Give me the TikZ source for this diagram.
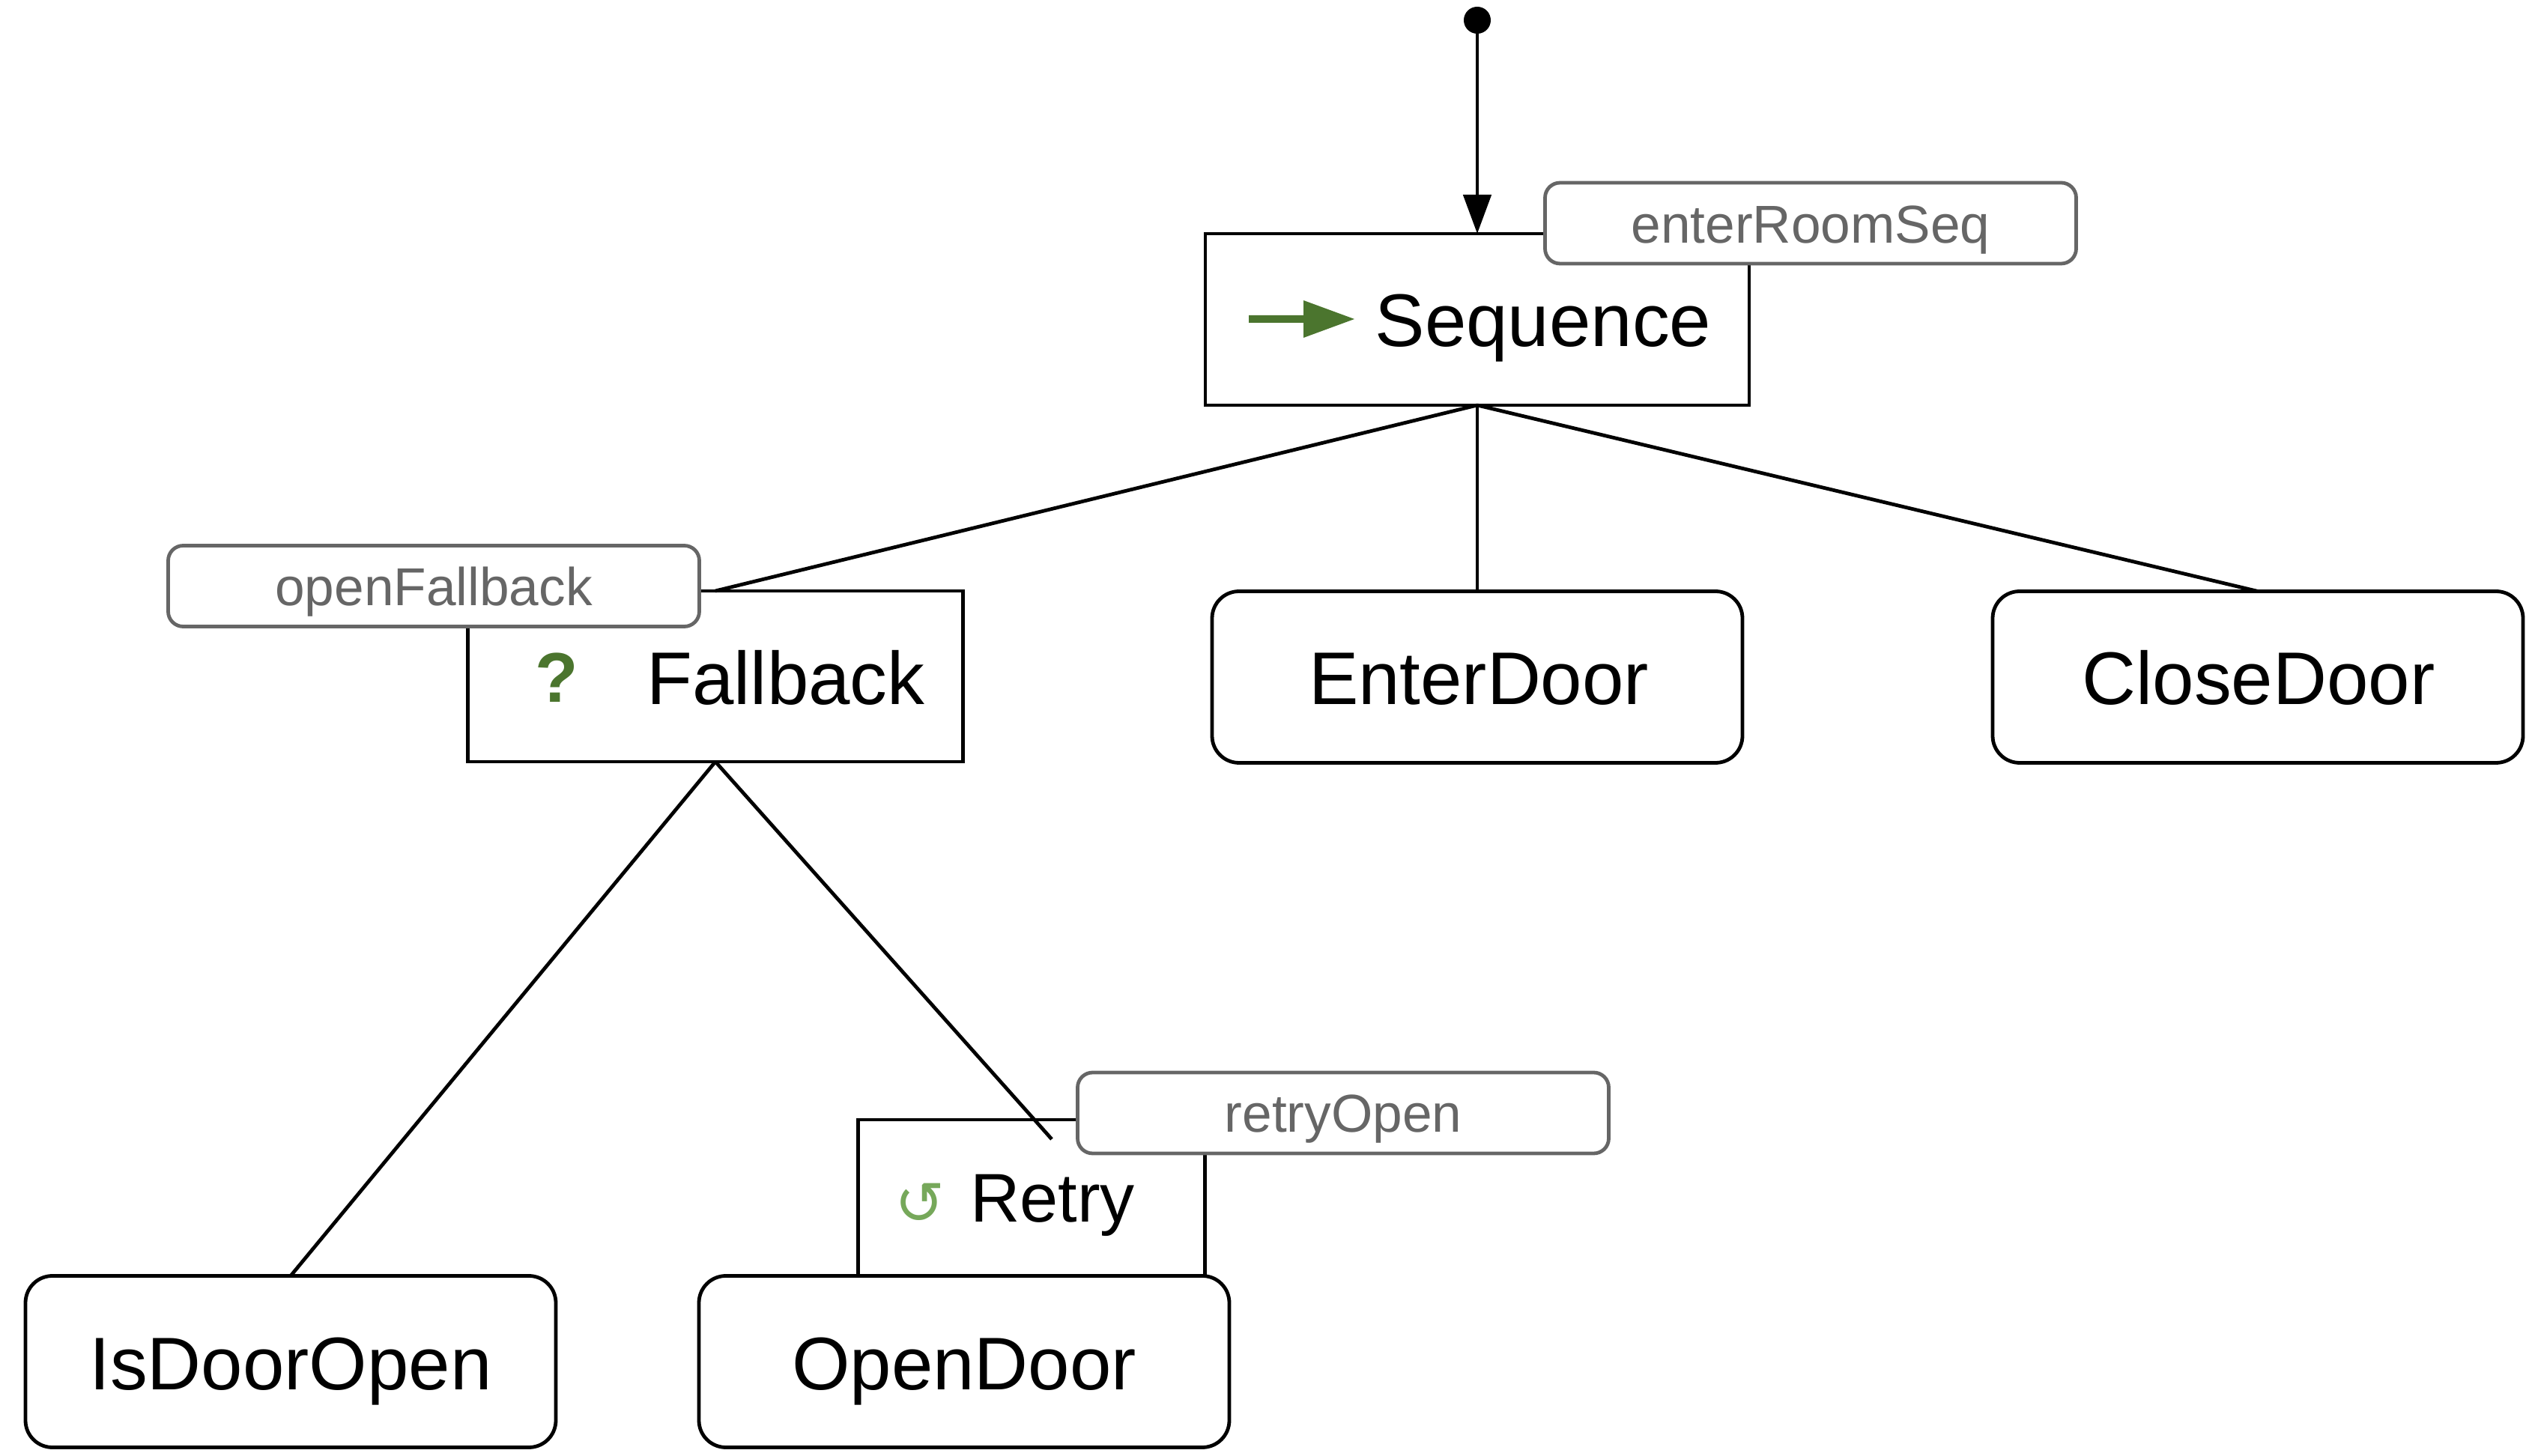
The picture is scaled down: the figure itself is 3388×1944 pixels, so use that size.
\documentclass[tikz,border=0pt]{standalone}
\usepackage{fontspec}
\setmainfont{Liberation Sans}
\newfontfamily\symfont{DejaVu Sans}
\usetikzlibrary{arrows.meta}
\definecolor{dkgreen}{HTML}{4B752E}
\definecolor{ltgreen}{HTML}{76A85A}
\definecolor{lblgray}{HTML}{666666}
\tikzset{
  boxbase/.style={draw=black,fill=white,line width=1.2pt,inner sep=0pt,outer sep=0pt},
  ctrlbox/.style={boxbase},
  actionbox/.style={boxbase,rounded corners=9pt,minimum width=177pt,minimum height=57.25pt},
  tagbox/.style={draw=lblgray,fill=white,line width=1.2pt,inner sep=0pt,outer sep=0pt,rounded corners=5pt,minimum width=177.25pt,minimum height=27pt},
  maintext/.style={anchor=base,inner sep=0pt,font=\fontsize{24.9}{30}\selectfont,text=black},
  tagtext/.style={anchor=base,inner sep=0pt,font=\fontsize{17.8}{21}\selectfont,text=lblgray},
  edge/.style={draw=black,line width=1.2pt},
  startarrow/.style={edge,-{Triangle[length=13pt,width=9.25pt]}},
}
\begin{document}
\begin{tikzpicture}[x=0.25pt,y=-0.25pt]
\useasboundingbox (0,0) rectangle (3388,1944);
\fill[white] (0,0) rectangle (3388,1944);
% boxes
\node[ctrlbox,minimum width=181.5pt,minimum height=57.25pt] (seq) at (1972,426.5) {};
\node[ctrlbox,minimum width=165.25pt,minimum height=57pt] (fb) at (955,903) {};
\node[ctrlbox,minimum width=115.75pt,minimum height=52.5pt] (retry) at (1377,1600) {};
\node[actionbox] (enter) at (1972,904) {};
\node[actionbox] (close) at (3014,904) {};
\node[actionbox] (isopen) at (388,1818) {};
\node[actionbox] (open) at (1287,1818) {};
% start
\node[circle,fill=black,inner sep=0pt,outer sep=0pt,minimum size=9pt] (start) at (1972,27) {};
\coordinate (retryend) at (1404,1521);
% connectors
\draw[startarrow] (start) -- (seq.north);
\draw[edge] (seq.south) -- (fb.north);
\draw[edge] (seq.south) -- (enter.north);
\draw[edge] (seq.south) -- (close.north);
\draw[edge] (fb.south) -- (isopen.north);
\draw[edge] (fb.south) -- (retryend);
% tags
\node[tagbox] (tagseq) at (2417,298) {};
\node[tagbox] (tagfb) at (579,782.5) {};
\node[tagbox] (tagretry) at (1793,1486) {};
\node[tagtext] (tagseqt) at (2417,325) {enterRoomSeq};
\node[tagtext] (tagfbt) at (579,809) {openFallback};
\node[tagtext] (tagretryt) at (1793,1512) {retryOpen};
% icons
\fill[dkgreen] (1667,421) -- (1740,421) -- (1740,401) -- (1808,426) -- (1740,451) -- (1740,431) -- (1667,431) -- cycle;
\node[anchor=base,inner sep=0pt,font=\fontsize{23.5}{28}\bfseries\selectfont,text=dkgreen] (qmark) at (743,938) {?};
\node[anchor=base,inner sep=0pt,font=\symfont\fontsize{20}{24}\selectfont,text=ltgreen] (loopicon) at (1228,1635) {↺};
% texts
\node[maintext] (seqt) at (2060,463) {Sequence};
\node[maintext] (fbt) at (1049,941) {Fallback};
\node[maintext,font=\fontsize{23}{28}\selectfont] (retryt) at (1405,1632) {Retry};
\node[maintext] (entert) at (1974,941) {EnterDoor};
\node[maintext] (closet) at (3015,941) {CloseDoor};
\node[maintext] (isopent) at (388,1856) {IsDoorOpen};
\node[maintext] (opent) at (1287,1856) {OpenDoor};
\end{tikzpicture}
\end{document}
